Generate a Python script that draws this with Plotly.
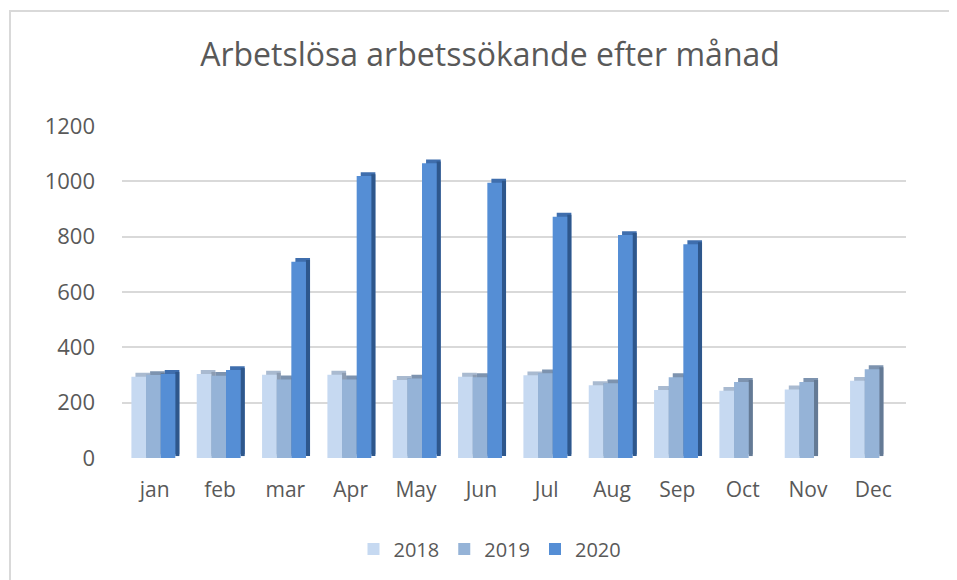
import plotly.graph_objects as go

months = ["jan", "feb", "mar", "Apr", "May", "Jun", "Jul", "Aug", "Sep", "Oct", "Nov", "Dec"]
years = ["2018", "2019", "2020"]
v2018 = [294, 304, 301, 301, 282, 294, 299, 263, 246, 243, 248, 279]
v2019 = [300, 297, 284, 284, 287, 292, 306, 270, 292, 275, 275, 321]
v2020 = [304, 318, 709, 1019, 1065, 995, 872, 806, 773, None, None, None]
y_ticks = [0, 200, 400, 600, 800, 1000, 1200]

series = [v2018, v2019, v2020]
front_cols = ["#C6D9F1", "#95B3D7", "#558ED5"]
top_cols = ["#A9BAD0", "#7D93AF", "#3F6EAD"]
side_cols = ["#8C9CB2", "#647A95", "#2E578C"]

W = 0.224      # bar width (category units)
DX = 0.062     # depth shift in x
DY = 14        # depth shift in y (value units)
offs = [-0.356, -0.132, 0.092]

fig = go.Figure()
for s, vals in enumerate(series):
    xs = [m for m, v in zip(months, vals) if v is not None]
    vs = [v for v in vals if v is not None]
    fig.add_trace(go.Bar(x=xs, y=vs, base=[DY] * len(vs), width=W, offset=offs[s] + DX,
                         marker=dict(color=top_cols[s], line=dict(width=0)),
                         showlegend=False, hoverinfo="skip"))
    fig.add_trace(go.Bar(x=xs, y=vs, base=[DY * 0.5] * len(vs), width=DX, offset=offs[s] + W,
                         marker=dict(color=side_cols[s], line=dict(width=0)),
                         showlegend=False, hoverinfo="skip"))
    fig.add_trace(go.Bar(x=xs, y=vs, width=W, offset=offs[s], name=years[s],
                         marker=dict(color=front_cols[s], line=dict(width=0))))

# page has an 8px body margin; figure coordinates below are page coords minus 8
L, R, T, B = 114, 59, 118, 130
pw = 957 - L - R
ph = 580 - T - B

fig.update_layout(
    width=957, height=580,
    barmode="overlay",
    plot_bgcolor="white", paper_bgcolor="white",
    margin=dict(l=L, r=R, t=T, b=B),
    font=dict(family="Open Sans, sans-serif", color="#595959"),
    title=dict(text="Arbetslösa arbetssökande efter månad", x=482 / 957, xanchor="center",
               xref="container", y=1 - 47 / 580, yanchor="middle", yref="container",
               font=dict(size=32, color="#595959")),
    legend=dict(orientation="h", xref="container", yref="container", x=482 / 957, xanchor="center",
                y=1 - 541 / 580, yanchor="middle", font=dict(size=20, color="#595959"),
                traceorder="normal"),
    showlegend=True,
    shapes=[dict(type="rect", xref="paper", yref="paper",
                 x0=(2 - L) / pw, x1=(970 - L) / pw,
                 y0=-(600 - (580 - B)) / ph, y1=(580 - B - 3) / ph,
                 line=dict(color="#D9D9D9", width=2), fillcolor="rgba(0,0,0,0)", layer="below")],
)
fig.update_xaxes(type="category", categoryorder="array", categoryarray=months,
                 range=[-0.5, 11.5], showgrid=False, showline=False, zeroline=False,
                 tickfont=dict(size=21, color="#595959"), ticks="", ticklabelstandoff=17)
fig.update_yaxes(range=[0, 1200], tickvals=y_ticks, ticktext=[str(t) for t in y_ticks],
                 showgrid=True, gridcolor="#D9D9D9", gridwidth=2, zeroline=False, showline=False,
                 tickfont=dict(size=22, color="#595959"), ticks="", ticklabelstandoff=26)

fig.write_html("out.html")
